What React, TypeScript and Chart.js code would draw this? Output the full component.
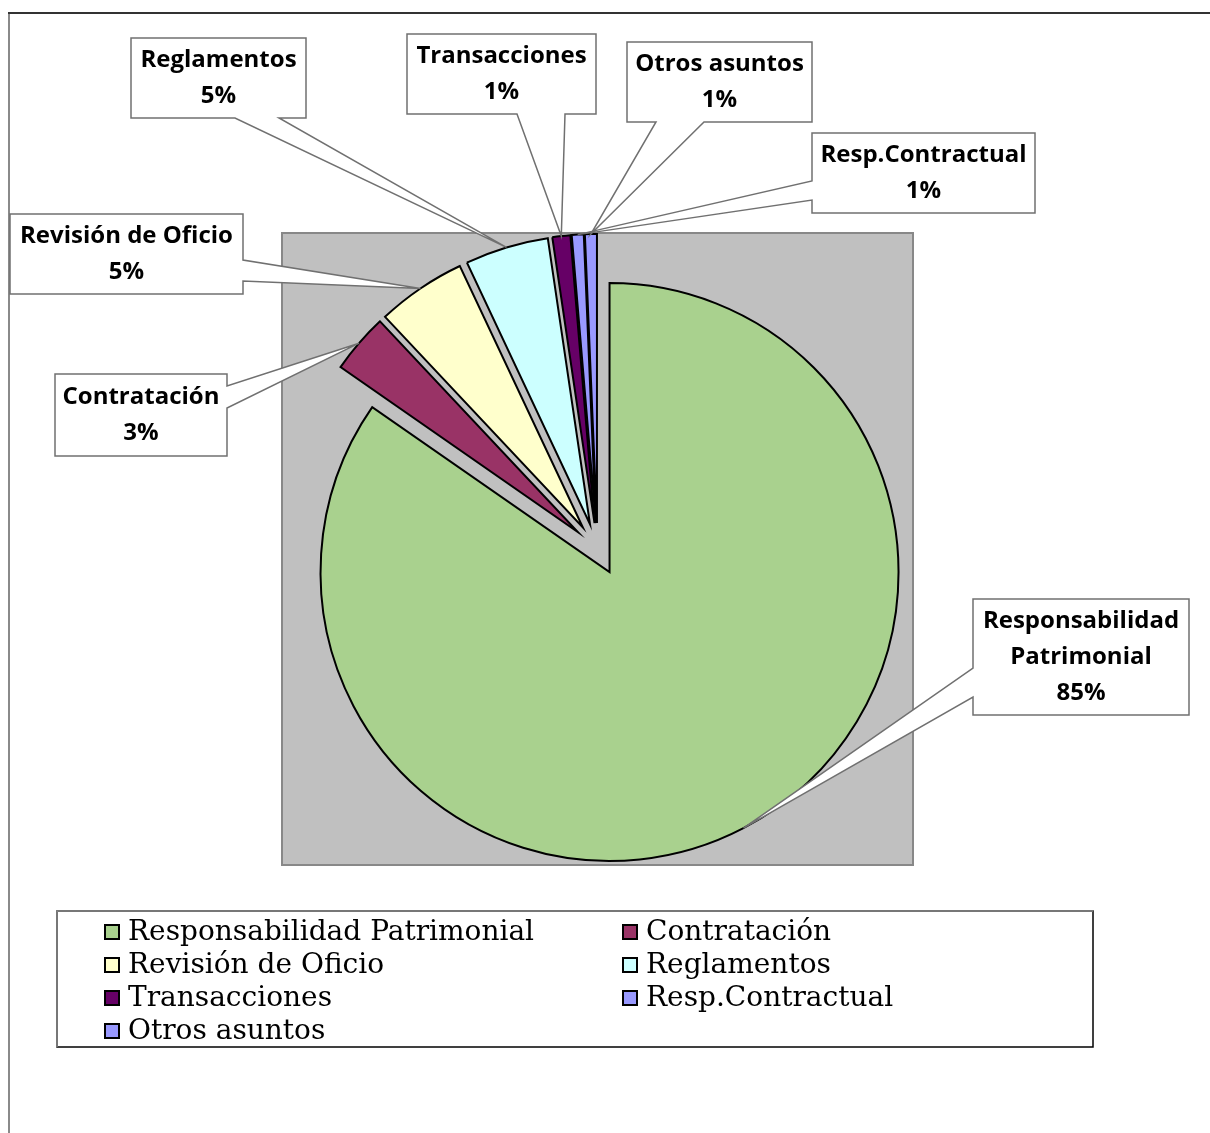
import React, { useEffect, useRef } from 'react';
import { Chart, registerables } from 'chart.js';

Chart.register(...registerables);

// ---------- data ----------
const categories = [
  'Responsabilidad Patrimonial',
  'Contratación',
  'Revisión de Oficio',
  'Reglamentos',
  'Transacciones',
  'Resp.Contractual',
  'Otros asuntos',
];
const counts = [254, 10, 15, 14, 3, 2, 2];
const sliceColors = ['#A9D18E', '#993366', '#FFFFCC', '#CCFFFF', '#660066', '#9999FF', '#9999FF'];
const calloutLabelLines = [
  ['Responsabilidad', 'Patrimonial'],
  ['Contratación'],
  ['Revisión de Oficio'],
  ['Reglamentos'],
  ['Transacciones'],
  ['Resp.Contractual'],
  ['Otros asuntos'],
];

// ---------- layout / style ----------
const W = 1210;
const H = 1133;
const PLOT = { left: 282, top: 233, right: 913, bottom: 865 };
const PIE_RADIUS = 289;
const EXPLODE = 26;

type Callout = { x: number; y: number; w: number; h: number; side: 'left' | 'right' | 'bottom'; a: number; b: number };
const calloutBoxes: Callout[] = [
  { x: 973, y: 599, w: 216, h: 116, side: 'left', a: 668, b: 697 },
  { x: 55, y: 374, w: 172, h: 82, side: 'right', a: 386, b: 408 },
  { x: 10, y: 214, w: 233, h: 80, side: 'right', a: 260, b: 281 },
  { x: 131, y: 38, w: 175, h: 80, side: 'bottom', a: 235, b: 279 },
  { x: 407, y: 34, w: 189, h: 80, side: 'bottom', a: 517, b: 565 },
  { x: 812, y: 133, w: 223, h: 80, side: 'left', a: 181, b: 200 },
  { x: 627, y: 42, w: 185, h: 80, side: 'bottom', a: 656, b: 704 },
];
const CALLOUT_FONT = 'bold 24px "Open Sans"';
const CALLOUT_LINE = 36;

const LEGEND = { left: 57, top: 911, right: 1093, bottom: 1047, cols: [105, 623], row0: 932, rowStep: 33, box: 14, gap: 9 };
const LEGEND_FONT = '28px "DejaVu Serif"';

const framePlugin = {
  id: 'frame',
  beforeDraw(chart: any) {
    const ctx = chart.ctx;
    ctx.save();
    // outer chart frame
    ctx.lineWidth = 2;
    ctx.strokeStyle = '#8a8a8a';
    ctx.beginPath();
    ctx.moveTo(9, 14);
    ctx.lineTo(9, H);
    ctx.stroke();
    ctx.strokeStyle = '#333333';
    ctx.beginPath();
    ctx.moveTo(8, 13);
    ctx.lineTo(W, 13);
    ctx.stroke();
    // plot area
    const a = chart.chartArea;
    ctx.fillStyle = '#C0C0C0';
    ctx.fillRect(a.left, a.top, a.right - a.left, a.bottom - a.top);
    ctx.strokeStyle = '#888888';
    ctx.lineWidth = 2;
    ctx.strokeRect(a.left, a.top, a.right - a.left, a.bottom - a.top);
    ctx.restore();
  },
};

const explodePlugin = {
  id: 'explode',
  beforeDatasetDraw(chart: any, args: any) {
    const ctx = chart.ctx;
    args.meta.data.forEach((arc: any) => {
      const mid = (arc.startAngle + arc.endAngle) / 2;
      ctx.save();
      ctx.translate(Math.cos(mid) * EXPLODE, Math.sin(mid) * EXPLODE);
      arc.draw(ctx, chart.chartArea);
      ctx.restore();
    });
    return false;
  },
};

function calloutPath(ctx: CanvasRenderingContext2D, c: Callout, tx: number, ty: number) {
  const { x, y, w, h } = c;
  const r = x + w;
  const btm = y + h;
  ctx.beginPath();
  ctx.moveTo(x, y);
  ctx.lineTo(r, y);
  if (c.side === 'right') {
    ctx.lineTo(r, c.a);
    ctx.lineTo(tx, ty);
    ctx.lineTo(r, c.b);
  }
  ctx.lineTo(r, btm);
  if (c.side === 'bottom') {
    ctx.lineTo(c.b, btm);
    ctx.lineTo(tx, ty);
    ctx.lineTo(c.a, btm);
  }
  ctx.lineTo(x, btm);
  if (c.side === 'left') {
    ctx.lineTo(x, c.b);
    ctx.lineTo(tx, ty);
    ctx.lineTo(x, c.a);
  }
  ctx.closePath();
}

const calloutPlugin = {
  id: 'callouts',
  afterDatasetsDraw(chart: any) {
    const ctx = chart.ctx;
    const meta = chart.getDatasetMeta(0);
    const values: number[] = chart.data.datasets[0].data;
    const total = values.reduce((s, v) => s + v, 0);
    ctx.save();
    meta.data.forEach((arc: any, i: number) => {
      const c = calloutBoxes[i];
      if (!c) return;
      const mid = (arc.startAngle + arc.endAngle) / 2;
      const dist = arc.outerRadius + EXPLODE;
      const tx = arc.x + Math.cos(mid) * dist;
      const ty = arc.y + Math.sin(mid) * dist;
      calloutPath(ctx, c, tx, ty);
      ctx.fillStyle = '#ffffff';
      ctx.fill();
      ctx.lineWidth = 1.5;
      ctx.strokeStyle = '#707070';
      ctx.lineJoin = 'miter';
      ctx.stroke();
      const lines = [...calloutLabelLines[i], Math.round((values[i] / total) * 100) + '%'];
      ctx.fillStyle = '#000000';
      ctx.font = CALLOUT_FONT;
      ctx.textAlign = 'center';
      ctx.textBaseline = 'middle';
      const cx = c.x + c.w / 2;
      const cy = c.y + c.h / 2;
      lines.forEach((t, k) => {
        ctx.fillText(t, cx, cy + (k - (lines.length - 1) / 2) * CALLOUT_LINE);
      });
    });
    ctx.restore();
  },
};

const legendPlugin = {
  id: 'customLegend',
  afterDraw(chart: any) {
    const ctx = chart.ctx;
    const L = LEGEND;
    ctx.save();
    ctx.fillStyle = '#ffffff';
    ctx.fillRect(L.left, L.top, L.right - L.left, L.bottom - L.top);
    ctx.lineWidth = 1.5;
    ctx.strokeStyle = '#000000';
    ctx.strokeRect(L.left, L.top, L.right - L.left, L.bottom - L.top);
    ctx.strokeStyle = '#8a8a8a';
    ctx.beginPath();
    ctx.moveTo(L.left, L.bottom);
    ctx.lineTo(L.left, L.top);
    ctx.lineTo(L.right, L.top);
    ctx.stroke();

    const labels: string[] = chart.data.labels;
    const colors: string[] = chart.data.datasets[0].backgroundColor;
    ctx.font = LEGEND_FONT;
    ctx.textAlign = 'left';
    ctx.textBaseline = 'middle';
    labels.forEach((lab, i) => {
      const col = i % 2;
      const row = Math.floor(i / 2);
      const x = L.cols[col];
      const y = L.row0 + row * L.rowStep;
      ctx.fillStyle = colors[i];
      ctx.fillRect(x, y - L.box / 2, L.box, L.box);
      ctx.lineWidth = 2;
      ctx.strokeStyle = '#000000';
      ctx.strokeRect(x, y - L.box / 2, L.box, L.box);
      ctx.fillStyle = '#000000';
      ctx.fillText(lab, x + L.box + L.gap, y + 1);
    });
    ctx.restore();
  },
};

export default function App() {
  const canvasRef = useRef<HTMLCanvasElement | null>(null);

  useEffect(() => {
    document.body.style.margin = '0';
    document.body.style.overflow = 'hidden';
    const canvas = canvasRef.current;
    if (!canvas) return;
    const chart = new Chart(canvas, {
      type: 'pie',
      data: {
        labels: categories,
        datasets: [
          {
            data: counts,
            backgroundColor: sliceColors,
            borderColor: '#000000',
            borderWidth: 2,
            borderJoinStyle: 'miter',
          } as any,
        ],
      },
      options: {
        responsive: false,
        animation: false,
        devicePixelRatio: 1,
        radius: PIE_RADIUS,
        events: [],
        layout: {
          padding: { left: PLOT.left, top: PLOT.top, right: W - PLOT.right, bottom: H - PLOT.bottom },
        },
        plugins: {
          legend: { display: false },
          tooltip: { enabled: false },
        },
      } as any,
      plugins: [framePlugin, explodePlugin, calloutPlugin, legendPlugin],
    });
    return () => chart.destroy();
  }, []);

  return (
    <div style={{ width: W, height: H, position: 'relative', overflow: 'hidden' }}>
      <canvas ref={canvasRef} width={W} height={H} style={{ display: 'block', width: W, height: H }} />
    </div>
  );
}
